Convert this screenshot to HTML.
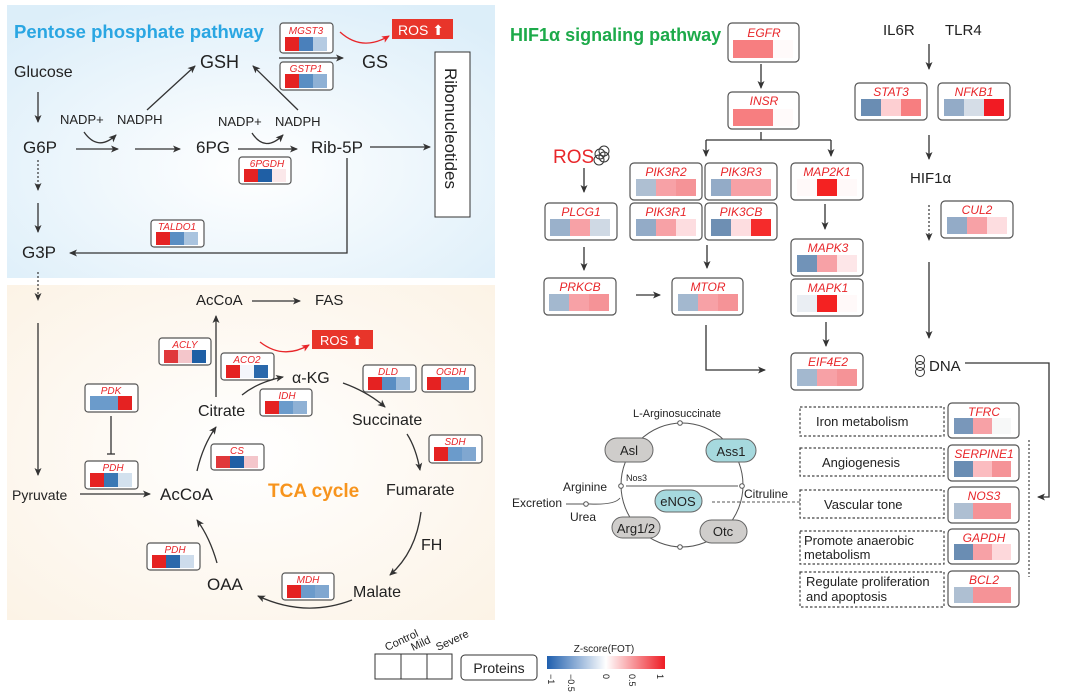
<!DOCTYPE html>
<html><head><meta charset="utf-8">
<style>
body{margin:0;background:#fff;}
svg{display:block;font-family:"Liberation Sans",Arial,sans-serif;}
.g{font-style:italic;fill:#e8262a;text-anchor:middle;}
.b{fill:#fff;stroke:#555;stroke-width:1.2;}
.t{fill:#222;}
.ln{stroke:#333;stroke-width:1.3;fill:none;}
</style></head><body>
<svg width="1080" height="694" viewBox="0 0 1080 694" xmlns="http://www.w3.org/2000/svg">
<defs>
<marker id="a" markerWidth="8" markerHeight="8" refX="7" refY="4" orient="auto" markerUnits="userSpaceOnUse"><path d="M0,0.5 L8,4 L0,7.5 L2,4 Z" fill="#333"/></marker>
<marker id="r" markerWidth="8" markerHeight="8" refX="7" refY="4" orient="auto" markerUnits="userSpaceOnUse"><path d="M0,0.5 L8,4 L0,7.5 L2,4 Z" fill="#e8262a"/></marker>
<radialGradient id="pb" cx="0.5" cy="0.6" r="0.7"><stop offset="0" stop-color="#ffffff"/><stop offset="1" stop-color="#dceef9"/></radialGradient>
<radialGradient id="pt" cx="0.5" cy="0.5" r="0.7"><stop offset="0" stop-color="#ffffff"/><stop offset="1" stop-color="#fcf3e6"/></radialGradient>
<linearGradient id="zg" x1="0" x2="1"><stop offset="0" stop-color="#1f5fae"/><stop offset="0.5" stop-color="#ffffff"/><stop offset="1" stop-color="#ee1c24"/></linearGradient>
</defs>

<!-- panels -->
<rect x="7" y="5" width="488" height="273" fill="url(#pb)"/>
<rect x="7" y="285" width="488" height="335" fill="url(#pt)"/>

<!-- PPP -->
<text x="14" y="38" font-size="18.5" font-weight="bold" fill="#2aa6e2">Pentose phosphate pathway</text>
<g transform="translate(280,23)"><rect class="b" width="53" height="30" rx="3"/><text class="g" x="26" y="11" font-size="10">MGST3</text><rect x="5" y="14" width="14" height="14" fill="#e52222"/><rect x="19" y="14" width="14" height="14" fill="#4a80bb"/><rect x="33" y="14" width="14" height="14" fill="#b5cbe2"/></g>
<g transform="translate(280,62)"><rect class="b" width="53" height="28" rx="3"/><text class="g" x="26" y="10" font-size="10">GSTP1</text><rect x="5" y="12" width="14" height="14" fill="#e52222"/><rect x="19" y="12" width="14" height="14" fill="#5a8ec3"/><rect x="33" y="12" width="14" height="14" fill="#8fb1d5"/></g>
<line class="ln" x1="279" y1="58" x2="343" y2="58" marker-end="url(#a)"/>
<text x="362" y="68" font-size="18" class="t">GS</text>
<rect x="392" y="19" width="61" height="20" fill="#e8352a"/>
<text x="398" y="35" font-size="14" fill="#fff">ROS ⬆</text>
<path d="M340,32 Q362,52 389,36" fill="none" stroke="#e8262a" stroke-width="1.3" marker-end="url(#r)"/>
<rect x="435" y="52" width="35" height="165" fill="#fff" stroke="#333" stroke-width="1"/>
<text transform="translate(445,68) rotate(90)" font-size="17" class="t">Ribonucleotides</text>
<text x="200" y="68" font-size="18" class="t">GSH</text>
<text x="14" y="77" font-size="16" class="t">Glucose</text>
<line class="ln" x1="38" y1="92" x2="38" y2="122" marker-end="url(#a)"/>
<text x="60" y="124" font-size="13" class="t">NADP+</text>
<text x="117" y="124" font-size="13" class="t">NADPH</text>
<text x="23" y="153" font-size="17" class="t">G6P</text>
<line class="ln" x1="76" y1="149" x2="118" y2="149" marker-end="url(#a)"/>
<path class="ln" d="M84,132 Q98,152 116,135" marker-end="url(#a)"/>
<line class="ln" x1="135" y1="149" x2="180" y2="149" marker-end="url(#a)"/>
<text x="196" y="153" font-size="17" class="t">6PG</text>
<line class="ln" x1="238" y1="149" x2="297" y2="149" marker-end="url(#a)"/>
<path class="ln" d="M252,133 Q265,153 283,135" marker-end="url(#a)"/>
<text x="218" y="126" font-size="13" class="t">NADP+</text>
<text x="275" y="126" font-size="13" class="t">NADPH</text>
<text x="311" y="153" font-size="17" class="t">Rib-5P</text>
<line class="ln" x1="370" y1="147" x2="430" y2="147" marker-end="url(#a)"/>
<line class="ln" x1="147" y1="110" x2="195" y2="66" marker-end="url(#a)"/>
<line class="ln" x1="298" y1="110" x2="253" y2="66" marker-end="url(#a)"/>
<g transform="translate(239,157)"><rect class="b" width="52" height="27" rx="3"/><text class="g" x="28" y="10" font-size="10">6PGDH</text><rect x="5" y="12" width="14" height="13" fill="#e52222"/><rect x="19" y="12" width="14" height="13" fill="#1f5fa5"/><rect x="33" y="12" width="14" height="13" fill="#fbe8ea"/></g>
<line x1="38" y1="160" x2="38" y2="190" stroke="#333" stroke-width="1.2" stroke-dasharray="2,2" marker-end="url(#a)"/>
<line class="ln" x1="38" y1="203" x2="38" y2="232" marker-end="url(#a)"/>
<text x="22" y="258" font-size="17" class="t">G3P</text>
<g transform="translate(151,220)"><rect class="b" width="53" height="27" rx="3"/><text class="g" x="26" y="10" font-size="10">TALDO1</text><rect x="5" y="12" width="14" height="13" fill="#e52222"/><rect x="19" y="12" width="14" height="13" fill="#5a8ec3"/><rect x="33" y="12" width="14" height="13" fill="#aac4df"/></g>
<path class="ln" d="M347,158 L347,253 L70,253" marker-end="url(#a)"/>
<line x1="38" y1="272" x2="38" y2="300" stroke="#333" stroke-width="1.2" stroke-dasharray="2,2" marker-end="url(#a)"/>

<!-- TCA -->
<line class="ln" x1="38" y1="323" x2="38" y2="475" marker-end="url(#a)"/>
<text x="12" y="500" font-size="14" class="t">Pyruvate</text>
<line class="ln" x1="80" y1="494" x2="150" y2="494" marker-end="url(#a)"/>
<text x="160" y="500" font-size="17" class="t">AcCoA</text>
<g transform="translate(85,461)"><rect class="b" width="53" height="28" rx="3"/><text class="g" x="28" y="10" font-size="10">PDH</text><rect x="5" y="12" width="14" height="14" fill="#e52222"/><rect x="19" y="12" width="14" height="14" fill="#3a78b4"/><rect x="33" y="12" width="14" height="14" fill="#d3e1ee"/></g>
<g transform="translate(85,384)"><rect class="b" width="53" height="28" rx="3"/><text class="g" x="26" y="10" font-size="10">PDK</text><rect x="5" y="12" width="14" height="14" fill="#6b9bcb"/><rect x="19" y="12" width="14" height="14" fill="#6b9bcb"/><rect x="33" y="12" width="14" height="14" fill="#e52222"/></g>
<line class="ln" x1="111" y1="416" x2="111" y2="454"/><line class="ln" x1="107" y1="454" x2="115" y2="454"/>
<text x="198" y="416" font-size="16" class="t">Citrate</text>
<text x="196" y="305" font-size="15" class="t">AcCoA</text>
<line class="ln" x1="216" y1="397" x2="216" y2="316" marker-end="url(#a)"/>
<line class="ln" x1="252" y1="301" x2="300" y2="301" marker-end="url(#a)"/>
<text x="315" y="305" font-size="15" class="t">FAS</text>
<g transform="translate(159,338)"><rect class="b" width="52" height="27" rx="3"/><text class="g" x="26" y="10" font-size="10">ACLY</text><rect x="5" y="12" width="14" height="13" fill="#e0383b"/><rect x="19" y="12" width="14" height="13" fill="#f4c6cb"/><rect x="33" y="12" width="14" height="13" fill="#1f5fa5"/></g>
<g transform="translate(221,353)"><rect class="b" width="53" height="27" rx="3"/><text class="g" x="26" y="10" font-size="10">ACO2</text><rect x="5" y="12" width="14" height="13" fill="#e52222"/><rect x="19" y="12" width="14" height="13" fill="#f4f6fb"/><rect x="33" y="12" width="14" height="13" fill="#2a68ab"/></g>
<g transform="translate(260,389)"><rect class="b" width="52" height="27" rx="3"/><text class="g" x="27" y="10" font-size="10">IDH</text><rect x="5" y="12" width="14" height="13" fill="#e52222"/><rect x="19" y="12" width="14" height="13" fill="#6b9bcb"/><rect x="33" y="12" width="14" height="13" fill="#8fb1d5"/></g>
<text x="292" y="383" font-size="16" class="t">α-KG</text>
<rect x="312" y="330" width="61" height="19" fill="#e8352a"/>
<text x="320" y="345" font-size="13" fill="#fff">ROS ⬆</text>
<path d="M260,342 Q283,360 309,345" fill="none" stroke="#e8262a" stroke-width="1.3" marker-end="url(#r)"/>
<path class="ln" d="M242,395 Q258,382 283,377" marker-end="url(#a)"/>
<g transform="translate(363,365)"><rect class="b" width="53" height="27" rx="3"/><text class="g" x="25" y="10" font-size="10">DLD</text><rect x="5" y="12" width="14" height="13" fill="#e52222"/><rect x="19" y="12" width="14" height="13" fill="#5a8ec3"/><rect x="33" y="12" width="14" height="13" fill="#9dbbda"/></g>
<g transform="translate(422,365)"><rect class="b" width="53" height="27" rx="3"/><text class="g" x="29" y="10" font-size="10">OGDH</text><rect x="5" y="12" width="14" height="13" fill="#e52222"/><rect x="19" y="12" width="14" height="13" fill="#6b9bcb"/><rect x="33" y="12" width="14" height="13" fill="#6b9bcb"/></g>
<path class="ln" d="M343,383 Q368,392 385,407" marker-end="url(#a)"/>
<text x="352" y="425" font-size="16" class="t">Succinate</text>
<g transform="translate(429,435)"><rect class="b" width="53" height="28" rx="3"/><text class="g" x="26" y="10" font-size="10">SDH</text><rect x="5" y="12" width="14" height="14" fill="#e52222"/><rect x="19" y="12" width="14" height="14" fill="#6b9bcb"/><rect x="33" y="12" width="14" height="14" fill="#80a7d0"/></g>
<path class="ln" d="M407,434 Q416,448 420,470" marker-end="url(#a)"/>
<text x="386" y="495" font-size="16" class="t">Fumarate</text>
<text x="268" y="497" font-size="19" font-weight="bold" fill="#f7941d">TCA cycle</text>
<text x="421" y="550" font-size="16" class="t">FH</text>
<path class="ln" d="M421,512 Q416,552 390,575" marker-end="url(#a)"/>
<text x="353" y="597" font-size="16" class="t">Malate</text>
<g transform="translate(282,573)"><rect class="b" width="52" height="27" rx="3"/><text class="g" x="26" y="10" font-size="10">MDH</text><rect x="5" y="12" width="14" height="13" fill="#e52222"/><rect x="19" y="12" width="14" height="13" fill="#6b9bcb"/><rect x="33" y="12" width="14" height="13" fill="#80a7d0"/></g>
<path class="ln" d="M352,600 Q305,618 258,596" marker-end="url(#a)"/>
<text x="207" y="590" font-size="17" class="t">OAA</text>
<g transform="translate(147,543)"><rect class="b" width="53" height="27" rx="3"/><text class="g" x="28" y="10" font-size="10">PDH</text><rect x="5" y="12" width="14" height="13" fill="#e52222"/><rect x="19" y="12" width="14" height="13" fill="#2a68ab"/><rect x="33" y="12" width="14" height="13" fill="#cddcec"/></g>
<path class="ln" d="M217,563 Q210,538 197,520" marker-end="url(#a)"/>
<g transform="translate(211,444)"><rect class="b" width="53" height="26" rx="3"/><text class="g" x="26" y="10" font-size="10">CS</text><rect x="5" y="12" width="14" height="12" fill="#e0383b"/><rect x="19" y="12" width="14" height="12" fill="#1f5fa5"/><rect x="33" y="12" width="14" height="12" fill="#f4c6cb"/></g>
<path class="ln" d="M197,471 Q203,445 216,427" marker-end="url(#a)"/>

<!-- HIF1a -->
<text x="510" y="41" font-size="18" font-weight="bold" fill="#1daa4a">HIF1α signaling pathway</text>
<g transform="translate(728,23)"><rect class="b" width="71" height="39" rx="4"/><text class="g" x="36" y="14" font-size="12">EGFR</text><rect x="5" y="17" width="20" height="18" fill="#f77e80"/><rect x="25" y="17" width="20" height="18" fill="#f77e80"/><rect x="45" y="17" width="20" height="18" fill="#fffafa"/></g>
<line class="ln" x1="761" y1="64" x2="761" y2="88" marker-end="url(#a)"/>
<g transform="translate(728,92)"><rect class="b" width="71" height="37" rx="4"/><text class="g" x="36" y="13" font-size="12">INSR</text><rect x="5" y="17" width="20" height="17" fill="#f77e80"/><rect x="25" y="17" width="20" height="17" fill="#f77e80"/><rect x="45" y="17" width="20" height="17" fill="#fffafa"/></g>
<path class="ln" d="M761,132 L761,140"/><path class="ln" d="M706,140 L831,140"/>
<line class="ln" x1="706" y1="140" x2="706" y2="156" marker-end="url(#a)"/>
<line class="ln" x1="831" y1="140" x2="831" y2="156" marker-end="url(#a)"/>
<text x="553" y="163" font-size="19" fill="#e8262a">ROS</text>
<g fill="none" stroke="#333" stroke-width="1"><circle cx="600" cy="154" r="5"/><circle cx="604" cy="157" r="5"/><circle cx="599" cy="160" r="5"/><circle cx="604" cy="151" r="5"/></g>
<line class="ln" x1="584" y1="168" x2="584" y2="192" marker-end="url(#a)"/>
<g transform="translate(545,203)"><rect class="b" width="72" height="37" rx="4"/><text class="g" x="36" y="13" font-size="12">PLCG1</text><rect x="5" y="16" width="20" height="17" fill="#9ab1cb"/><rect x="25" y="16" width="20" height="17" fill="#f7a1a6"/><rect x="45" y="16" width="20" height="17" fill="#cfd9e4"/></g>
<line class="ln" x1="584" y1="247" x2="584" y2="270" marker-end="url(#a)"/>
<g transform="translate(544,278)"><rect class="b" width="72" height="37" rx="4"/><text class="g" x="36" y="13" font-size="12">PRKCB</text><rect x="5" y="16" width="20" height="17" fill="#a3b8cf"/><rect x="25" y="16" width="20" height="17" fill="#f7a1a6"/><rect x="45" y="16" width="20" height="17" fill="#f59397"/></g>
<line class="ln" x1="636" y1="295" x2="660" y2="295" marker-end="url(#a)"/>
<g transform="translate(630,163)"><rect class="b" width="72" height="37" rx="4"/><text class="g" x="36" y="13" font-size="12">PIK3R2</text><rect x="6" y="16" width="20" height="17" fill="#aebfd2"/><rect x="26" y="16" width="20" height="17" fill="#f7a1a6"/><rect x="46" y="16" width="20" height="17" fill="#f59397"/></g>
<g transform="translate(705,163)"><rect class="b" width="72" height="37" rx="4"/><text class="g" x="36" y="13" font-size="12">PIK3R3</text><rect x="6" y="16" width="20" height="17" fill="#93abc7"/><rect x="26" y="16" width="20" height="17" fill="#f7a1a6"/><rect x="46" y="16" width="20" height="17" fill="#f7a1a6"/></g>
<g transform="translate(630,203)"><rect class="b" width="72" height="37" rx="4"/><text class="g" x="36" y="13" font-size="12">PIK3R1</text><rect x="6" y="16" width="20" height="17" fill="#93abc7"/><rect x="26" y="16" width="20" height="17" fill="#f7a1a6"/><rect x="46" y="16" width="20" height="17" fill="#fddde0"/></g>
<g transform="translate(705,203)"><rect class="b" width="72" height="37" rx="4"/><text class="g" x="36" y="13" font-size="12">PIK3CB</text><rect x="6" y="16" width="20" height="17" fill="#6e8fb3"/><rect x="26" y="16" width="20" height="17" fill="#fddde0"/><rect x="46" y="16" width="20" height="17" fill="#f52b2b"/></g>
<line class="ln" x1="707" y1="245" x2="707" y2="268" marker-end="url(#a)"/>
<g transform="translate(672,278)"><rect class="b" width="71" height="37" rx="4"/><text class="g" x="36" y="13" font-size="12">MTOR</text><rect x="6" y="16" width="20" height="17" fill="#a3b8cf"/><rect x="26" y="16" width="20" height="17" fill="#f7a1a6"/><rect x="46" y="16" width="20" height="17" fill="#f59397"/></g>
<path class="ln" d="M706,325 L706,370 L765,370" marker-end="url(#a)"/>
<g transform="translate(791,163)"><rect class="b" width="72" height="37" rx="4"/><text class="g" x="36" y="13" font-size="12">MAP2K1</text><rect x="6" y="16" width="20" height="17" fill="#fff9f9"/><rect x="26" y="16" width="20" height="17" fill="#f42222"/><rect x="46" y="16" width="20" height="17" fill="#fff9f9"/></g>
<line class="ln" x1="825" y1="204" x2="825" y2="229" marker-end="url(#a)"/>
<g transform="translate(791,239)"><rect class="b" width="72" height="37" rx="4"/><text class="g" x="37" y="13" font-size="12">MAPK3</text><rect x="6" y="16" width="20" height="17" fill="#7193b8"/><rect x="26" y="16" width="20" height="17" fill="#f7a1a6"/><rect x="46" y="16" width="20" height="17" fill="#fde6e8"/></g>
<g transform="translate(791,279)"><rect class="b" width="72" height="37" rx="4"/><text class="g" x="37" y="13" font-size="12">MAPK1</text><rect x="6" y="16" width="20" height="17" fill="#eaeef3"/><rect x="26" y="16" width="20" height="17" fill="#f42222"/><rect x="46" y="16" width="20" height="17" fill="#fff9f9"/></g>
<line class="ln" x1="826" y1="322" x2="826" y2="346" marker-end="url(#a)"/>
<g transform="translate(791,353)"><rect class="b" width="72" height="37" rx="4"/><text class="g" x="37" y="13" font-size="12">EIF4E2</text><rect x="6" y="16" width="20" height="17" fill="#a3b8cf"/><rect x="26" y="16" width="20" height="17" fill="#f7a1a6"/><rect x="46" y="16" width="20" height="17" fill="#f59397"/></g>
<text x="883" y="35" font-size="15" class="t">IL6R</text>
<text x="945" y="35" font-size="15" class="t">TLR4</text>
<line class="ln" x1="929" y1="44" x2="929" y2="69" marker-end="url(#a)"/>
<g transform="translate(855,83)"><rect class="b" width="72" height="37" rx="4"/><text class="g" x="36" y="13" font-size="12">STAT3</text><rect x="6" y="16" width="20" height="17" fill="#6a8db3"/><rect x="26" y="16" width="20" height="17" fill="#fdcfd2"/><rect x="46" y="16" width="20" height="17" fill="#f77e80"/></g>
<g transform="translate(938,83)"><rect class="b" width="72" height="37" rx="4"/><text class="g" x="36" y="13" font-size="12">NFKB1</text><rect x="6" y="16" width="20" height="17" fill="#93abc7"/><rect x="26" y="16" width="20" height="17" fill="#d5dde7"/><rect x="46" y="16" width="20" height="17" fill="#f11b23"/></g>
<line class="ln" x1="929" y1="135" x2="929" y2="159" marker-end="url(#a)"/>
<text x="910" y="183" font-size="15" class="t">HIF1α</text>
<line x1="929" y1="205" x2="929" y2="240" stroke="#333" stroke-width="1.2" stroke-dasharray="2,2" marker-end="url(#a)"/>
<g transform="translate(941,201)"><rect class="b" width="72" height="37" rx="4"/><text class="g" x="36" y="13" font-size="12">CUL2</text><rect x="6" y="16" width="20" height="17" fill="#93abc7"/><rect x="26" y="16" width="20" height="17" fill="#f7a1a6"/><rect x="46" y="16" width="20" height="17" fill="#fddde0"/></g>
<line class="ln" x1="929" y1="262" x2="929" y2="338" marker-end="url(#a)"/>
<g fill="none" stroke="#333" stroke-width="1"><circle cx="920" cy="360" r="4.5"/><circle cx="920" cy="366" r="4.5"/><circle cx="920" cy="372" r="4.5"/></g>
<text x="929" y="371" font-size="15" class="t">DNA</text>
<path class="ln" d="M965,363 L1049,363 L1049,497 L1038,497" marker-end="url(#a)"/>
<line x1="1029" y1="440" x2="1029" y2="577" stroke="#444" stroke-width="1.2" stroke-dasharray="2,2"/>

<!-- right labels -->
<g fill="#fff" stroke="#444" stroke-width="1.2" stroke-dasharray="2.5,2">
<rect x="800" y="407" width="144" height="29"/><rect x="800" y="448" width="144" height="28"/><rect x="800" y="490" width="144" height="28"/><rect x="800" y="531" width="144" height="33"/><rect x="800" y="572" width="144" height="35"/></g>
<g font-size="13" class="t">
<text x="816" y="426">Iron metabolism</text><text x="822" y="467">Angiogenesis</text><text x="824" y="509">Vascular tone</text>
<text x="804" y="545">Promote anaerobic</text><text x="804" y="559">metabolism</text>
<text x="806" y="586">Regulate proliferation</text><text x="806" y="601">and apoptosis</text></g>
<g transform="translate(948,403)"><rect class="b" width="71" height="35" rx="4"/><text class="g" x="36" y="13" font-size="12">TFRC</text><rect x="6" y="15" width="19" height="16" fill="#7997ba"/><rect x="25" y="15" width="19" height="16" fill="#f7a1a6"/><rect x="44" y="15" width="19" height="16" fill="#f7f8f8"/></g>
<g transform="translate(948,445)"><rect class="b" width="71" height="36" rx="4"/><text class="g" x="36" y="13" font-size="12">SERPINE1</text><rect x="6" y="16" width="19" height="16" fill="#6a8db3"/><rect x="25" y="16" width="19" height="16" fill="#fbbcc0"/><rect x="44" y="16" width="19" height="16" fill="#f59397"/></g>
<g transform="translate(948,487)"><rect class="b" width="71" height="36" rx="4"/><text class="g" x="36" y="13" font-size="12">NOS3</text><rect x="6" y="16" width="19" height="16" fill="#aebfd2"/><rect x="25" y="16" width="19" height="16" fill="#f59397"/><rect x="44" y="16" width="19" height="16" fill="#f59397"/></g>
<g transform="translate(948,529)"><rect class="b" width="71" height="35" rx="4"/><text class="g" x="36" y="13" font-size="12">GAPDH</text><rect x="6" y="15" width="19" height="16" fill="#6a8db3"/><rect x="25" y="15" width="19" height="16" fill="#f7a1a6"/><rect x="44" y="15" width="19" height="16" fill="#fdd8db"/></g>
<g transform="translate(948,571)"><rect class="b" width="71" height="36" rx="4"/><text class="g" x="36" y="13" font-size="12">BCL2</text><rect x="6" y="16" width="19" height="16" fill="#aebfd2"/><rect x="25" y="16" width="19" height="16" fill="#f59397"/><rect x="44" y="16" width="19" height="16" fill="#f59397"/></g>

<!-- urea cycle -->
<ellipse cx="682" cy="485" rx="61" ry="62" fill="none" stroke="#555" stroke-width="1"/>
<text x="633" y="417" font-size="11" class="t">L-Arginosuccinate</text>
<circle cx="680" cy="423" r="2.3" fill="#fff" stroke="#555"/><circle cx="680" cy="547" r="2.3" fill="#fff" stroke="#555"/>
<circle cx="621" cy="486" r="2.3" fill="#fff" stroke="#555"/><circle cx="742" cy="486" r="2.3" fill="#fff" stroke="#555"/>
<rect x="605" y="438" width="48" height="24" rx="12" fill="#cfcdcb" stroke="#666"/><text x="629" y="455" font-size="13" text-anchor="middle" class="t">Asl</text>
<rect x="706" y="439" width="50" height="23" rx="11.5" fill="#a6d9de" stroke="#666"/><text x="731" y="456" font-size="13" text-anchor="middle" class="t">Ass1</text>
<rect x="655" y="490" width="47" height="22" rx="11" fill="#a6d9de" stroke="#666"/><text x="678" y="506" font-size="13" text-anchor="middle" class="t">eNOS</text>
<rect x="612" y="517" width="48" height="21" rx="10.5" fill="#cfcdcb" stroke="#666"/><text x="636" y="533" font-size="13" text-anchor="middle" class="t">Arg1/2</text>
<rect x="700" y="520" width="47" height="23" rx="11.5" fill="#cfcdcb" stroke="#666"/><text x="723" y="536" font-size="13" text-anchor="middle" class="t">Otc</text>
<line x1="626" y1="486" x2="738" y2="486" stroke="#555" stroke-width="0.9"/>
<text x="626" y="481" font-size="9" class="t">Nos3</text>
<text x="563" y="491" font-size="12" class="t">Arginine</text>
<text x="744" y="498" font-size="12" class="t">Citruline</text>
<text x="512" y="507" font-size="12" class="t">Excretion</text>
<text x="570" y="521" font-size="12" class="t">Urea</text>
<path d="M620,498 Q615,505 590,504 L566,504" fill="none" stroke="#555" stroke-width="0.9"/>
<circle cx="586" cy="504" r="2.3" fill="#fff" stroke="#555"/>
<line x1="712" y1="502" x2="800" y2="502" stroke="#555" stroke-width="1" stroke-dasharray="3,2"/>

<!-- legend -->
<rect x="375" y="654" width="77" height="25" fill="#fff" stroke="#333"/>
<line x1="401" y1="654" x2="401" y2="679" stroke="#333"/><line x1="427" y1="654" x2="427" y2="679" stroke="#333"/>
<text transform="translate(387,651) rotate(-25)" font-size="11" class="t">Control</text>
<text transform="translate(413,651) rotate(-25)" font-size="11" class="t">Mild</text>
<text transform="translate(438,651) rotate(-25)" font-size="11" class="t">Severe</text>
<rect x="461" y="655" width="76" height="25" rx="4" fill="#fff" stroke="#333"/>
<text x="499" y="673" font-size="14" text-anchor="middle" class="t">Proteins</text>
<text x="604" y="652" font-size="10" text-anchor="middle" class="t">Z-score(FOT)</text>
<rect x="547" y="656" width="118" height="13" fill="url(#zg)"/>
<g font-size="9" class="t">
<text transform="translate(548,674) rotate(90)">−1</text>
<text transform="translate(568,674) rotate(90)">−0.5</text>
<text transform="translate(603,674) rotate(90)">0</text>
<text transform="translate(629,674) rotate(90)">0.5</text>
<text transform="translate(657,674) rotate(90)">1</text></g>
</svg>
</body></html>
